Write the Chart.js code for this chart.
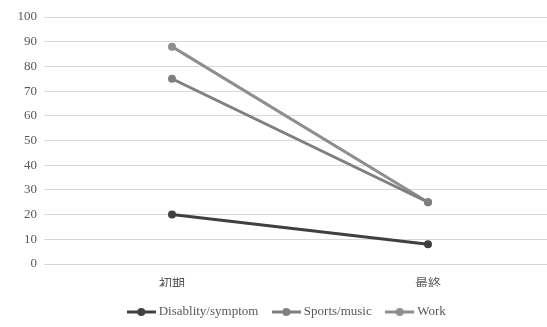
<!DOCTYPE html>
<html>
<head>
<meta charset="utf-8">
<script src="https://cdn.jsdelivr.net/npm/chart.js@4/dist/chart.umd.min.js"></script>
<style>
  html, body { margin: 0; padding: 0; background: #fff; overflow: hidden; }
  #wrap { width: 547px; height: 327px; overflow: hidden; }
  canvas { display: block; }
</style>
</head>
<body>
<div id="wrap"><canvas id="c" width="577" height="327"></canvas></div>
<script>
// Chart values
const categories = ['初期', '最終'];
const seriesNames = ['Disablity/symptom', 'Sports/music', 'Work'];
const disabilityValues = [20, 8];
const sportsValues = [75, 25];
const workValues = [88, 25];
const yTicks = [0, 10, 20, 30, 40, 50, 60, 70, 80, 90, 100];

const seriesColors = ['#404040', '#7f7f7f', '#8e8e8e'];
const FONT = "'Liberation Serif', 'Noto Sans CJK JP', serif";

// Legend marker: a short line with a dot in the middle
function legendMarker(color) {
  const c = document.createElement('canvas');
  c.width = 29; c.height = 10;
  const g = c.getContext('2d');
  g.strokeStyle = color; g.lineWidth = 3;
  g.beginPath(); g.moveTo(0, 5); g.lineTo(29, 5); g.stroke();
  g.fillStyle = color;
  g.beginPath(); g.arc(14.5, 5, 4, 0, Math.PI * 2); g.fill();
  return c;
}
const markers = seriesColors.map(legendMarker);

const seriesValues = [disabilityValues, sportsValues, workValues];
const datasets = seriesNames.map((name, i) => ({
  label: name,
  data: seriesValues[i],
  borderColor: seriesColors[i],
  backgroundColor: seriesColors[i],
  borderWidth: 3,
  pointRadius: 4,
  pointHoverRadius: 4,
  pointBorderWidth: 0,
  tension: 0
}));

// Nudge the legend so it sits centred under the plot
const legendShift = {
  id: 'legendShift',
  afterLayout(chart) {
    const lg = chart.legend;
    if (!lg) return;
    lg.left += 10; lg.right += 10;
    lg.top += 1.5; lg.bottom += 1.5;
  }
};

new Chart(document.getElementById('c'), {
  type: 'line',
  data: { labels: categories, datasets },
  plugins: [legendShift],
  options: {
    responsive: false,
    animation: false,
    devicePixelRatio: 1,
    layout: { padding: { top: 17, right: 21, bottom: 0, left: 0 } },
    plugins: {
      tooltip: { enabled: false },
      legend: {
        position: 'bottom',
        labels: {
          usePointStyle: true,
          pointStyleWidth: 22,
          boxHeight: 10,
          padding: 17,
          color: '#595959',
          font: { family: FONT, size: 13 },
          generateLabels(chart) {
            const items = Chart.defaults.plugins.legend.labels.generateLabels(chart);
            items.forEach(it => { it.pointStyle = markers[it.datasetIndex]; });
            return items;
          }
        }
      }
    },
    scales: {
      x: {
        offset: true,
        grid: { display: false, drawTicks: false },
        border: { display: false },
        ticks: { color: '#595959', padding: 13, font: { family: FONT, size: 13 } },
        afterFit(scale) { scale.height = 23; }
      },
      y: {
        min: 0,
        max: 100,
        afterBuildTicks(scale) { scale.ticks = yTicks.map(v => ({ value: v })); },
        grid: { color: '#d9d9d9', lineWidth: 1, drawTicks: false },
        border: { display: false },
        ticks: { color: '#595959', padding: 7, font: { family: FONT, size: 13 } },
        afterFit(scale) { scale.width = 44; }
      }
    }
  }
});
</script>
</body>
</html>
